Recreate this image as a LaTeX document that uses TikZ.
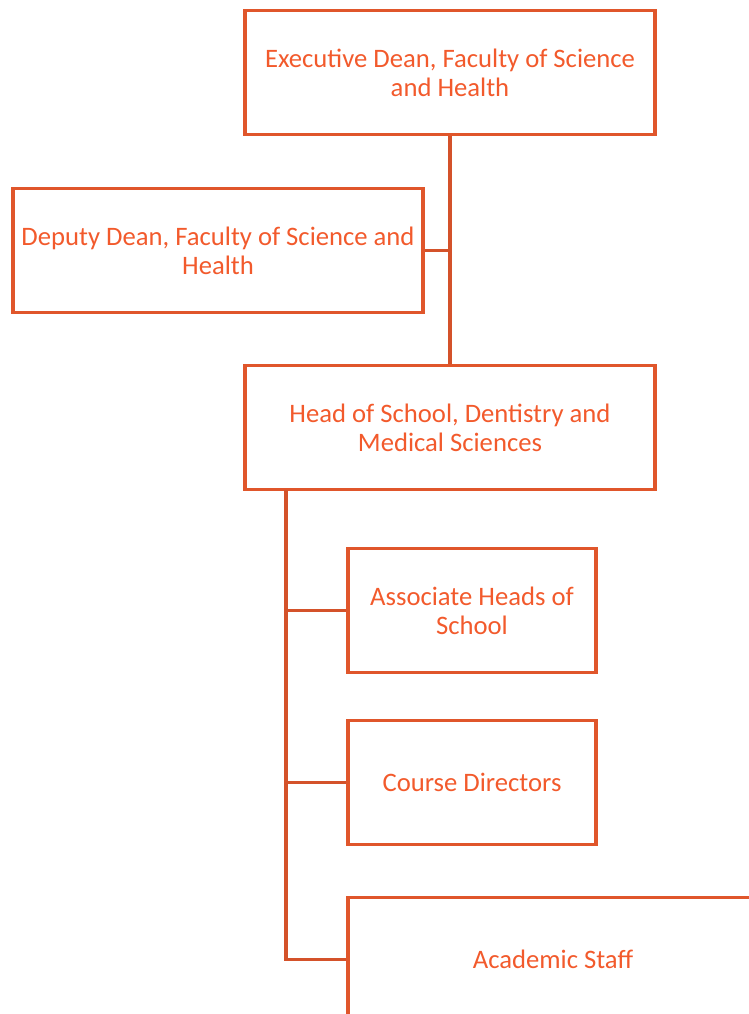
\documentclass[tikz,border=0pt]{standalone}
\usepackage{fontspec}
\setmainfont{Carlito}
\usetikzlibrary{positioning,calc}
\definecolor{boxorange}{RGB}{224,86,43}
\definecolor{lineorange}{RGB}{212,82,42}
\definecolor{textorange}{RGB}{242,90,44}
\begin{document}
\begin{tikzpicture}[x=0.75pt,y=-0.75pt]
        \tikzstyle{role}=[draw=boxorange, line width=2.4pt, align=center, text=textorange,
            font=\fontsize{20pt}{21.8pt}\selectfont, minimum width=307.5pt, minimum height=92.5pt, inner sep=0pt]
        \tikzstyle{smallrole}=[role, minimum width=186pt]
        \tikzstyle{link}=[draw=lineorange, line width=2.4pt]
        % page frame
        \useasboundingbox (0,0) rectangle (749,1014);
        \clip (0,0) rectangle (749,1014);
        % faculty level
        \node (exec)[role] at (450,72.5) {Executive Dean, Faculty of Science\\and Health};
        \node (deputy)[role] at (218,250.5) {Deputy Dean, Faculty of Science and\\Health};
        \node (head)[role] at (450,427.5) {Head of School, Dentistry and\\Medical Sciences};
        % school level
        \node (assoc)[smallrole] at (472,610.5) {Associate Heads of\\School};
        \node (course)[smallrole] at (472,782.5) {Course Directors};
        \node (acad)[role] at (553,959.5) {Academic Staff};
        % trunk under the head of school
        \coordinate (t1) at (286,490);
        % Draw links
        \draw[link] (exec) -- (head);
        \draw[link] (deputy.east) -- (deputy.east -| exec.south);
        \draw[link] (t1) |- (acad.west);
        \draw[link] (t1 |- assoc.west) -- (assoc.west);
        \draw[link] (t1 |- course.west) -- (course.west);
    \end{tikzpicture}
\end{document}
